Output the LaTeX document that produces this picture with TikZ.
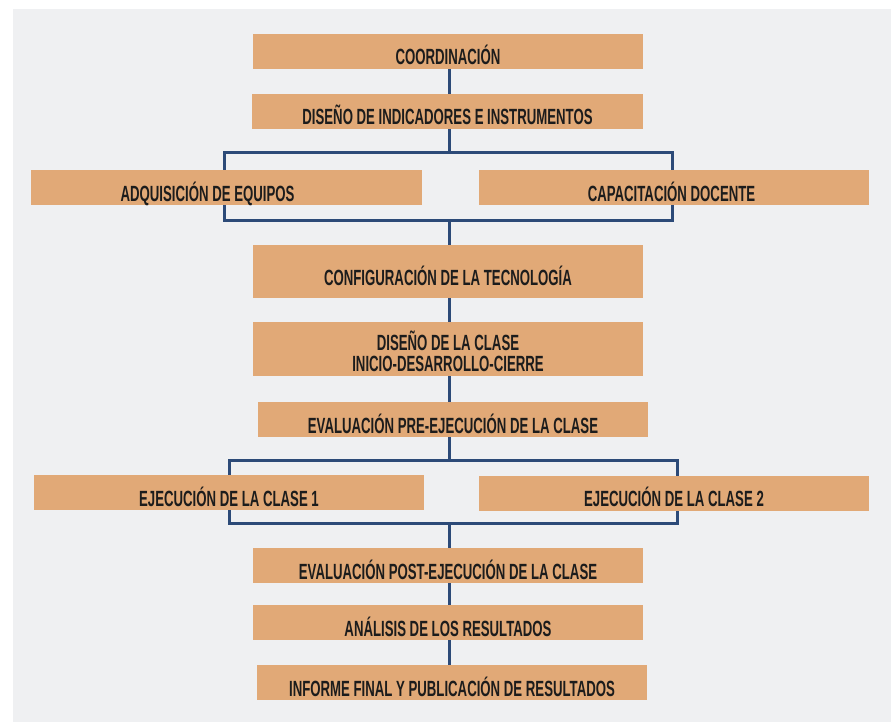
\documentclass[tikz,border=0pt]{standalone}
\usepackage{fontspec}
\newfontfamily\etapafont{Liberation Sans}[FakeStretch=0.6]
\definecolor{cajafill}{HTML}{E1A977}
\definecolor{fondocol}{HTML}{EFF0F2}
\definecolor{lineacol}{HTML}{2C4A78}
\definecolor{textocol}{HTML}{1C1C1C}
\newcommand{\anchocaja}{390pt}
\newcommand{\altocaja}{35pt}
\tikzset{
    caja/.style={rectangle, fill=cajafill, inner sep=0pt, minimum width=\anchocaja,
        minimum height=\altocaja, text=textocol,
        font=\etapafont\bfseries\fontsize{22}{21}\selectfont},
    etapa/.style={caja, text height=27pt, text depth=0pt},
    enlace/.style={draw=lineacol, line width=3pt},
}

\begin{document}
\begin{tikzpicture}[x=1pt,y=-1pt]
    \useasboundingbox (0,0) rectangle (891,722);
    \fill[fondocol] (13,9) rectangle (891,722);
    %\draw[help lines,step=50] (0,0) grid (891,722);
    \coordinate (eje) at (449,0);
    \coordinate (llaveA1) at (224,153);
    \coordinate (llaveA2) at (672,220);
    \coordinate (llaveB1) at (229,460);
    \coordinate (llaveB2) at (677,523);

    \draw[enlace] (llaveA1) rectangle (llaveA2);
    \draw[enlace] (llaveB1) rectangle (llaveB2);

    \node[etapa] (coord) at (448,51.5) {COORDINACIÓN};
    \node[etapa, minimum width=391pt] (indic) at (447.5,111.5) {DISEÑO DE INDICADORES E INSTRUMENTOS};

    \node[etapa, minimum width=391pt] (equipos) at (226.5,187.5) {ADQUISICIÓN DE EQUIPOS\hspace*{38pt}};
    \node[etapa] (docente) at (674,187.5) {CAPACITACIÓN DOCENTE\hspace*{5pt}};

    \node[etapa, minimum height=53pt] (tecno) at (448,271.5) {CONFIGURACIÓN DE LA TECNOLOGÍA};
    \node[caja, minimum height=54pt, align=center] (clase) at (448,349) {\rule{0pt}{25pt}DISEÑO DE LA CLASE\\INICIO-DESARROLLO-CIERRE};
    \node[etapa] (evalpre) at (453,419.5) {EVALUACIÓN PRE-EJECUCIÓN DE LA CLASE};

    \node[etapa] (ejec1) at (229,492.5) {EJECUCIÓN DE LA CLASE 1};
    \node[etapa] (ejec2) at (674,493) {EJECUCIÓN DE LA CLASE 2};

    \node[etapa] (evalpost) at (448,565.5) {EVALUACIÓN POST-EJECUCIÓN DE LA CLASE};
    \node[etapa] (analisis) at (448,622.5) {ANÁLISIS DE LOS RESULTADOS};
    \node[etapa] (informe) at (452,682.5) {INFORME FINAL Y PUBLICACIÓN DE RESULTADOS};

    \draw[enlace] (coord.south -| eje) -- (indic.north -| eje);
    \draw[enlace] (indic.south -| eje) -- (llaveA1 -| eje);
    \draw[enlace] (llaveA2 -| eje) -- (tecno.north -| eje);
    \draw[enlace] (tecno.south -| eje) -- (clase.north -| eje);
    \draw[enlace] (clase.south -| eje) -- (evalpre.north -| eje);
    \draw[enlace] (evalpre.south -| eje) -- (llaveB1 -| eje);
    \draw[enlace] (llaveB2 -| eje) -- (evalpost.north -| eje);
    \draw[enlace] (evalpost.south -| eje) -- (analisis.north -| eje);
    \draw[enlace] (analisis.south -| eje) -- (informe.north -| eje);
\end{tikzpicture}
\end{document}
